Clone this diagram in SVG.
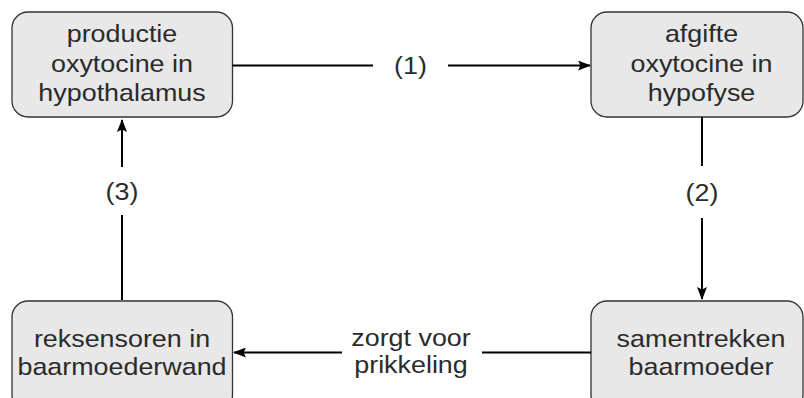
<svg xmlns="http://www.w3.org/2000/svg" width="804" height="398" viewBox="0 0 804 398">
<style>
.box{fill:#e8e8e8;stroke:#333;stroke-width:1.3}
.t{font-family:"Liberation Sans",Arial,sans-serif;font-size:24px;fill:#2b2b2b;text-anchor:middle}
.c{stroke:#000;stroke-width:2;fill:none}
</style>
<defs>
<marker id="ah" markerWidth="13" markerHeight="10" refX="12" refY="5" orient="auto" markerUnits="userSpaceOnUse">
<path d="M0,0 L13,5 L0,10 L2.5,5 Z" fill="#000"/>
</marker>
</defs>
<rect width="804" height="398" fill="#fff"/>
<g id="n1"><rect class="box" x="12" y="12" width="220.5" height="105" rx="16"/>
<g transform="translate(122 0) scale(1.12 1)"><text class="t" x="0" y="42.5">productie</text><text class="t" x="0" y="72">oxytocine in</text><text class="t" x="0" y="101.5">hypothalamus</text></g></g>
<g id="n2"><rect class="box" x="591" y="12" width="212" height="105" rx="16"/>
<g transform="translate(701.5 0) scale(1.12 1)"><text class="t" x="0" y="42.5">afgifte</text><text class="t" x="0" y="72">oxytocine in</text><text class="t" x="0" y="101.5">hypofyse</text></g></g>
<g id="n3"><rect class="box" x="12" y="301" width="220.5" height="110" rx="16"/>
<g transform="translate(122 0) scale(1.12 1)"><text class="t" x="0" y="347">reksensoren in</text><text class="t" x="0" y="375">baarmoederwand</text></g></g>
<g id="n4"><rect class="box" x="591" y="301" width="212" height="110" rx="16"/>
<g transform="translate(701 0) scale(1.12 1)"><text class="t" x="0" y="347">samentrekken</text><text class="t" x="0" y="375">baarmoeder</text></g></g>
<g id="connectors">
<path class="c" d="M232.5,65.5 H373"/><path class="c" d="M448,65.5 H590" marker-end="url(#ah)"/>
<path class="c" d="M702,117 V166"/><path class="c" d="M702,218 V299" marker-end="url(#ah)"/>
<path class="c" d="M122,300 V215"/><path class="c" d="M122,167 V120" marker-end="url(#ah)"/>
<path class="c" d="M591,352.5 H482"/><path class="c" d="M342,352.5 H234" marker-end="url(#ah)"/>
<g transform="translate(410.5 0) scale(1.12 1)"><text class="t" x="0" y="74">(1)</text></g>
<g transform="translate(702 0) scale(1.12 1)"><text class="t" x="0" y="201">(2)</text></g>
<g transform="translate(122 0) scale(1.12 1)"><text class="t" x="0" y="200">(3)</text></g>
<g transform="translate(411 0) scale(1.12 1)"><text class="t" x="0" y="346">zorgt voor</text><text class="t" x="0" y="373.5">prikkeling</text></g>
</g>
</svg>
